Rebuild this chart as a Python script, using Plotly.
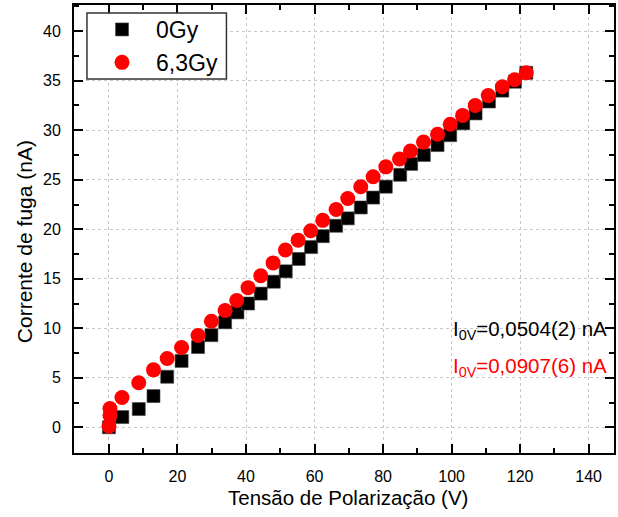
import plotly.graph_objects as go

# Data
x_0gy = [0, 3.9, 8.7, 13, 17, 21.2, 26, 29.9, 33.9, 37.5, 40.6, 44.3, 48.1, 51.6,
         55.4, 59.0, 62.4, 66.3, 69.7, 73.5, 77.1, 80.8, 85.0, 88.2, 91.9, 95.9,
         99.6, 103.4, 107.0, 110.9, 114.8, 118.5, 121.8]
y_0gy = [0, 1.03, 1.84, 3.15, 5.1, 6.7, 8.1, 9.3, 10.6, 11.6, 12.5, 13.5, 14.7, 15.75,
         17.0, 18.2, 19.3, 20.35, 21.1, 22.2, 23.2, 24.3, 25.5, 26.6, 27.5, 28.5,
         29.5, 30.7, 31.7, 32.9, 34.0, 34.9, 35.8]

x_63gy = [0, 0.3, 0.3, 3.8, 8.7, 13, 17, 21.2, 26, 29.9, 33.9, 37.3, 40.6, 44.3, 47.9,
          51.5, 55.2, 58.9, 62.4, 66.3, 69.7, 73.5, 77.1, 80.8, 84.8, 88.0, 91.8,
          95.9, 99.6, 103.2, 106.9, 110.7, 114.8, 118.4, 121.8]
y_63gy = [0.1, 1.2, 1.9, 3.0, 4.5, 5.8, 6.95, 8.06, 9.27, 10.7, 11.8, 12.8, 14.1, 15.3,
          16.6, 17.9, 18.9, 19.85, 20.9, 22.0, 23.1, 24.3, 25.3, 26.3, 27.1, 27.9,
          28.8, 29.6, 30.6, 31.5, 32.5, 33.5, 34.4, 35.1, 35.8]

series_names = ["0Gy", "6,3Gy"]
annotation_texts = ["I<sub>0V</sub>=0,0504(2) nA", "I<sub>0V</sub>=0,0907(6) nA"]
x_title = "Tensão de Polarização (V)"
y_title = "Corrente de fuga (nA)"
x_ticks = [0, 20, 40, 60, 80, 100, 120, 140]
y_ticks = [0, 5, 10, 15, 20, 25, 30, 35, 40]

FONT = "Liberation Sans, Arial, sans-serif"

fig = go.Figure()
fig.add_trace(go.Scatter(x=x_0gy, y=y_0gy, mode="markers", name=series_names[0],
                         marker=dict(symbol="square", size=13, color="black",
                                     line=dict(width=0.6, color="#444"))))
fig.add_trace(go.Scatter(x=x_63gy, y=y_63gy, mode="markers", name=series_names[1],
                         marker=dict(symbol="circle", size=15, color="#ff0000",
                                     line=dict(width=0))))

axis_common = dict(
    showline=True, linecolor="black", linewidth=2, mirror="allticks",
    ticks="inside", ticklen=9, tickwidth=1.5, tickcolor="black",
    showgrid=True, gridcolor="#c8c8c8", griddash="dot", gridwidth=1,
    zeroline=False, tickfont=dict(family=FONT, size=16, color="black"),
)

fig.update_xaxes(range=[-10.2, 147.4], tickvals=x_ticks,
                 minor=dict(dtick=10, tick0=0, ticks="inside", ticklen=5,
                            tickcolor="black", tickwidth=1.5, showgrid=False),
                 ticklabelstandoff=8, **axis_common)
fig.update_yaxes(range=[-2.6, 42.65], tickvals=y_ticks,
                 minor=dict(dtick=2.5, tick0=0, ticks="inside", ticklen=5,
                            tickcolor="black", tickwidth=1.5, showgrid=False),
                 ticklabelstandoff=8, **axis_common)

# axis titles
fig.add_annotation(x=0.5075, y=-0.1, xref="paper", yref="paper", text=x_title,
                   showarrow=False, xanchor="center", yanchor="middle",
                   font=dict(family=FONT, size=20.5, color="black"))
fig.add_annotation(x=-0.0904, y=0.471, xref="paper", yref="paper", text=y_title,
                   showarrow=False, xanchor="center", yanchor="middle", textangle=-90,
                   font=dict(family=FONT, size=21, color="black"))

fig.add_annotation(x=99.7, y=9.85, xref="x", yref="y", text=annotation_texts[0],
                   showarrow=False, xanchor="left", yanchor="middle",
                   font=dict(family=FONT, size=20.5, color="black"))
fig.add_annotation(x=99.7, y=6.1, xref="x", yref="y", text=annotation_texts[1],
                   showarrow=False, xanchor="left", yanchor="middle",
                   font=dict(family=FONT, size=20.5, color="#ff0000"))

# legend frame
fig.add_shape(type="rect", xref="paper", yref="paper",
              x0=0.024, x1=0.2823, y0=0.8348, y1=0.9821,
              line=dict(color="#333", width=1.5), fillcolor="white", layer="above")

fig.update_layout(
    width=618, height=517,
    margin=dict(l=74, r=2, t=5, b=64),
    plot_bgcolor="white", paper_bgcolor="white",
    showlegend=True,
    legend=dict(x=0.026, y=0.9933, xanchor="left", yanchor="top",
                bgcolor="rgba(0,0,0,0)", borderwidth=0,
                font=dict(family=FONT, size=23, color="black"),
                itemwidth=58, tracegroupgap=0),
    font=dict(family=FONT),
)

fig.write_html("out.html")
